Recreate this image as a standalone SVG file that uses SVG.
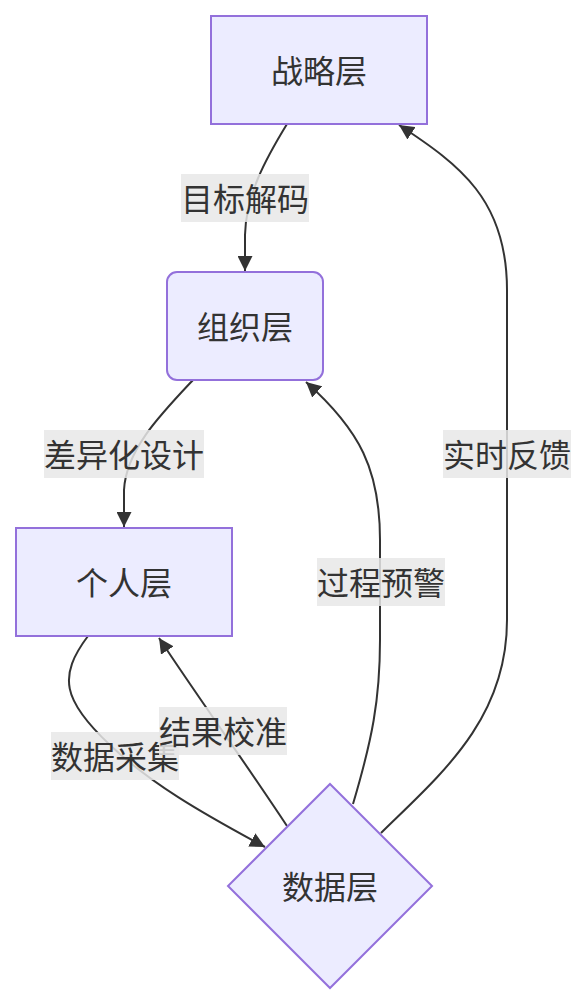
<svg xmlns="http://www.w3.org/2000/svg" width="587" height="1004" viewBox="0 0 587 1004">
<style>
.node{fill:#ECECFF;stroke:#9370DB;stroke-width:2}
.lbl{font-family:"Noto Sans CJK SC","Noto Sans",sans-serif;font-size:32px;fill:#333;text-anchor:middle;dominant-baseline:central}
.edge{fill:none;stroke:#333;stroke-width:2}
.lbg{fill:#e8e8e8;opacity:0.85}
</style>
<defs>
<marker id="arr" viewBox="0 0 10 10" refX="10" refY="5" markerWidth="7.5" markerHeight="7.5" orient="auto" markerUnits="strokeWidth">
<path d="M0,0 L10,5 L0,10 z" fill="#333"/>
</marker>
</defs>
<g id="connectors">
<path class="edge" d="M287,124 C265,160 246,195 245,235 L245,271" marker-end="url(#arr)"/>
<path class="edge" d="M193,380 C160,415 126,450 124,490 L124,527" marker-end="url(#arr)"/>
<path class="edge" d="M88,636 C58,676 62,700 110,745 C150,783 200,812 265,847" marker-end="url(#arr)"/>
<path class="edge" d="M287,826 C240,755 200,700 159,638" marker-end="url(#arr)"/>
<path class="edge" d="M353,804 C372,740 380,700 380,640 L380,540 C380,470 360,430 306,382" marker-end="url(#arr)"/>
<path class="edge" d="M381,833 C440,775 507,720 507,620 L507,290 C507,200 460,165 399,125" marker-end="url(#arr)"/>
</g>
<g id="edge-labels">
<rect class="lbg" x="181" y="174" width="128" height="48"/>
<text class="lbl" x="245" y="197">目标解码</text>
<rect class="lbg" x="44" y="430" width="160" height="48"/>
<text class="lbl" x="124" y="453">差异化设计</text>
<rect class="lbg" x="51" y="732" width="128" height="48"/>
<text class="lbl" x="115" y="755">数据采集</text>
<rect class="lbg" x="159" y="707" width="128" height="48"/>
<text class="lbl" x="223" y="730">结果校准</text>
<rect class="lbg" x="317" y="558" width="128" height="48"/>
<text class="lbl" x="381" y="581">过程预警</text>
<rect class="lbg" x="443" y="430" width="128" height="48"/>
<text class="lbl" x="507" y="453">实时反馈</text>
</g>
<g id="node-strategy">
<rect class="node" x="211" y="16" width="216" height="108"/>
<text class="lbl" x="319" y="69">战略层</text>
</g>
<g id="node-org">
<rect class="node" x="167" y="272" width="156" height="108" rx="10" ry="10"/>
<text class="lbl" x="245" y="325">组织层</text>
</g>
<g id="node-person">
<rect class="node" x="16" y="528" width="216" height="108"/>
<text class="lbl" x="124" y="581">个人层</text>
</g>
<g id="node-data">
<polygon class="node" points="330,784 432,886 330,988 228,886"/>
<text class="lbl" x="330" y="885">数据层</text>
</g>
</svg>
